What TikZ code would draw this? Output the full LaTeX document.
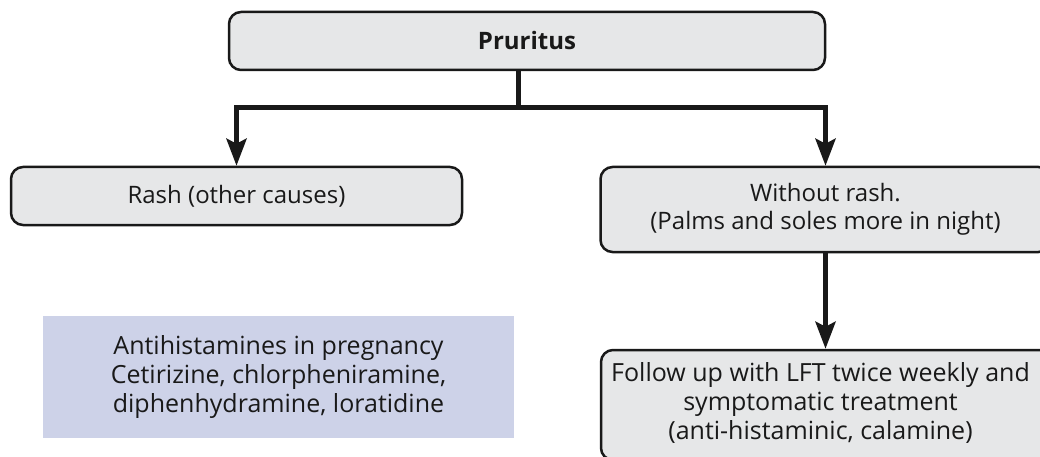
\documentclass[tikz,border=0pt]{standalone}
\usepackage{fontspec}
\setmainfont{Open Sans}
\usetikzlibrary{arrows.meta}
\definecolor{boxgray}{RGB}{230,231,232}
\definecolor{noteblue}{RGB}{205,210,232}
\definecolor{ink}{RGB}{25,25,25}
\begin{document}
\begin{tikzpicture}[x=1pt,y=-1pt,
  stepbox/.style={draw=ink, fill=boxgray, line width=2.5pt, rounded corners=12pt,
    align=center, inner sep=0pt, font=\fontsize{24}{28.5}\selectfont, text=ink},
  bigtext/.style={font=\fontsize{25}{29}\selectfont},
  notebox/.style={fill=noteblue, inner sep=0pt, align=center, bigtext, text=ink},
  link/.style={draw=ink, line width=5pt, line join=miter},
  arrow/.style={link, -{Stealth[length=27pt, width=20pt, inset=5pt]}}
]
\path[use as bounding box, clip] (0,0) rectangle (1040,457);

% boxes
\node[stepbox, minimum width=596pt, minimum height=58pt, font=\fontsize{24}{28.5}\selectfont\bfseries]
  (top) at (527,41) {Pruritus};
\node[stepbox, minimum width=451pt, minimum height=58pt]
  (rash) at (236.5,196) {Rash (other causes)};
\node[stepbox, minimum width=450pt, minimum height=85pt]
  (norash) at (825.5,209.5) {Without rash.\\(Palms and soles more in night)};
% the box runs past the right edge; its text sits a little left of centre
\node[stepbox, bigtext, minimum width=460pt, minimum height=110pt]
  (follow) at (831,405) {\begin{tabular}{@{}c@{}}Follow up with LFT twice weekly and\\symptomatic treatment\\(anti-histaminic, calamine)\end{tabular}\hspace{21pt}};
\node[notebox, minimum width=471pt, minimum height=122pt]
  (anti) at (278.5,377) {Antihistamines in pregnancy\\Cetirizine, chlorpheniramine,\\diphenhydramine, loratidine};

% connectors
\coordinate (split) at (518,108);
\draw[link] (top.south -| split) -- (split);
\draw[arrow] (split) -| (rash.north);
\draw[arrow] (split) -| (norash.north);
\draw[arrow] (norash.south) -- (norash.south |- follow.north);
\end{tikzpicture}
\end{document}
